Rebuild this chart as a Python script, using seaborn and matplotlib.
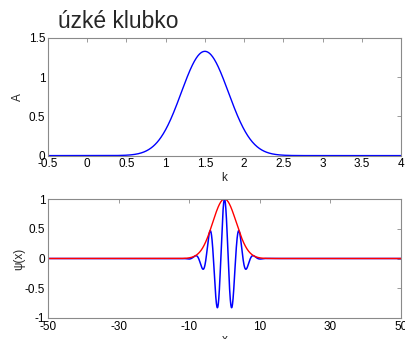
import numpy as np
import pandas as pd
import matplotlib
matplotlib.use("Agg")
import matplotlib.pyplot as plt
import seaborn as sns

# values
title_text = "úzké klubko"
k_center = 1.5      # peak position of A(k)
A_peak = 1.33       # peak height of A(k)
k_width = 0.30      # gaussian width of A(k)
top_xticks = [-0.5, 0, 0.5, 1, 1.5, 2, 2.5, 3, 3.5, 4]
top_xticklabels = ["-0.5", "0", "0.5", "1", "1.5", "2", "2.5", "3", "3.5", "4"]
top_yticks = [0, 0.5, 1, 1.5]
top_yticklabels = ["0", "0.5", "1", "1.5"]
bot_xticks = [-50, -30, -10, 10, 30, 50]
bot_xticklabels = ["-50", "-30", "-10", "10", "30", "50"]
bot_yticks = [-1, -0.5, 0, 0.5, 1]
bot_yticklabels = ["-1", "-0.5", "0", "0.5", "1"]

sns.set_style("white")
plt.rcParams["font.family"] = ["Liberation Sans", "DejaVu Sans"]

k = np.linspace(-0.5, 4, 901)
A = A_peak * np.exp(-((k - k_center) ** 2) / (2 * k_width ** 2))
x = np.linspace(-50, 50, 4001)
env = np.exp(-(x * k_width) ** 2 / 2)
psi = env * np.cos(k_center * x)

df_top = pd.DataFrame({"k": k, "A": A})
df_bot = pd.DataFrame({"x": x, "psi": psi, "env": env})

fig = plt.figure(figsize=(4.06, 3.39), dpi=100)
W, H = 406, 339
ax1 = fig.add_axes([48 / W, (H - 155.6) / H, 353 / W, 117.6 / H])
ax2 = fig.add_axes([48 / W, (H - 318) / H, 353 / W, 119 / H])

sns.lineplot(data=df_top, x="k", y="A", ax=ax1, color="#0000ff", linewidth=1.0)
sns.lineplot(data=df_bot, x="x", y="psi", ax=ax2, color="#0000ff", linewidth=1.1)
sns.lineplot(data=df_bot, x="x", y="env", ax=ax2, color="#ff0000", linewidth=1.0)

tick_fs = 8.5
for ax in (ax1, ax2):
    for sp in ax.spines.values():
        sp.set_visible(True)
        sp.set_color("#8a8a8a")
        sp.set_linewidth(0.8)
    ax.tick_params(direction="in", top=True, right=True, length=3, width=0.6,
                   color="#8a8a8a", labelsize=tick_fs, pad=2, labelcolor="black")

ax1.set_xlim(-0.5, 4)
ax1.set_ylim(0, 1.5)
ax1.set_xticks(top_xticks)
ax1.set_xticklabels(top_xticklabels)
ax1.set_yticks(top_yticks)
ax1.set_yticklabels(top_yticklabels)
ax1.set_xlabel("k", fontsize=tick_fs, labelpad=1)
ax1.set_ylabel("A", fontsize=tick_fs)
ax1.yaxis.set_label_coords(-24 / 353, 0.5)

ax2.set_xlim(-50, 50)
ax2.set_ylim(-1, 1)
ax2.set_xticks(bot_xticks)
ax2.set_xticklabels(bot_xticklabels)
ax2.set_yticks(bot_yticks)
ax2.set_yticklabels(bot_yticklabels)
ax2.set_xlabel("x", fontsize=tick_fs, labelpad=1)
ax2.set_ylabel("ψ(x)", fontsize=tick_fs)
ax2.yaxis.set_label_coords(-23 / 353, 0.5)

fig.text(58 / W, 1 - 28 / H, title_text, fontsize=16.5, ha="left", va="baseline")

fig.savefig("out.png", dpi=100)
